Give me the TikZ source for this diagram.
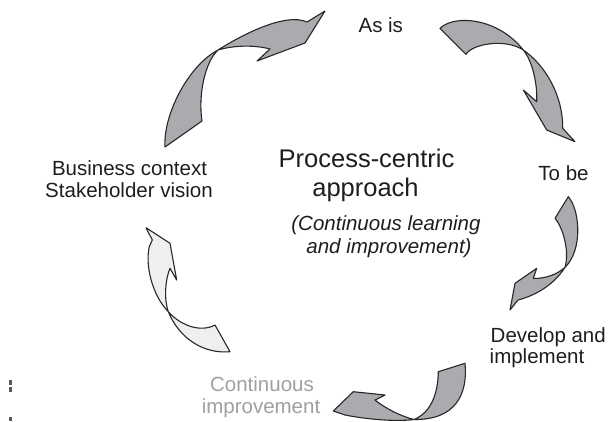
\documentclass[tikz,border=0pt]{standalone}
\usepackage{fontspec}
\setmainfont{Liberation Sans}
\definecolor{arrowgray}{RGB}{170,171,174}
\definecolor{paleshape}{RGB}{238,239,239}
\definecolor{outlinec}{RGB}{40,40,40}
\definecolor{txt}{RGB}{30,30,30}
\definecolor{softtxt}{RGB}{160,160,160}
\definecolor{markc}{RGB}{90,90,90}
\begin{document}
\begin{tikzpicture}[x=1pt,y=-1pt,
  arrowshape/.style={fill=arrowgray, draw=outlinec, line width=1.1pt, line join=round},
  lightshape/.style={arrowshape, fill=paleshape},
  lbl/.style={font=\fontsize{20.5}{23}\selectfont, text=txt, inner sep=0pt, anchor=base},
  biglbl/.style={font=\fontsize{25.5}{28}\selectfont, text=txt, inner sep=0pt, anchor=base},
  itlbl/.style={font=\fontsize{20.5}{23}\selectfont\itshape, text=txt, inner sep=0pt, anchor=base},
  softlbl/.style={lbl, text=softtxt}]
\fill[white] (0,0) rectangle (609,421);
\useasboundingbox (0,0) rectangle (609,421);

% arrow 1 (top left)
\draw[arrowshape] (165,147) .. controls (163,115) and (188,66) .. (218,50)
  .. controls (240,36) and (285,12) .. (307,22)
  -- (325,11) -- (305,43) -- (257,61) -- (270,49)
  .. controls (255,45) and (235,45) .. (218,50)
  .. controls (205,62) and (198,95) .. (202,121)
  -- cycle;

% arrow 2 (top right)
\draw[arrowshape] (440,28.3) .. controls (455,14) and (498,18) .. (523.3,50)
  .. controls (545,65) and (563,95) .. (562.7,128.3)
  -- (575,141.7) -- (546.7,130) -- (523.3,90) -- (536.7,101.7)
  .. controls (537.5,85) and (533,62) .. (523.3,50)
  .. controls (505,38) and (472,44) .. (466,54.3)
  -- cycle;

% arrow 3 (right)
\draw[arrowshape] (568.3,196.7) .. controls (580,210) and (583,250) .. (565,267.3)
  .. controls (558,274) and (545,279) .. (533.3,278.3)
  -- (536.7,268.3) -- (515,283.3) -- (510,310) -- (518,300)
  .. controls (530,297) and (552,288) .. (565,267.3)
  .. controls (570,250) and (562,226) .. (555,218.3)
  -- cycle;

% arrow 4 (bottom)
\draw[arrowshape] (465,363.3) .. controls (468,395) and (455,420) .. (414,419.5)
  .. controls (395,422) and (365,419) .. (345,415)
  -- (333.3,411) -- (353.3,391.7) -- (385,395) -- (375,400)
  .. controls (385,408) and (400,416) .. (414,419.5)
  .. controls (432,412) and (438,392) .. (438.3,371.7)
  -- cycle;

% arrow 5 (left, pale)
\draw[lightshape] (215,325) -- (230,351.7)
  .. controls (205,354) and (180,340) .. (168.3,311.7)
  .. controls (152,295) and (145,265) .. (149.3,246.7)
  -- (152.3,240) -- (146,227.7) -- (170,243.3) -- (176.7,280) -- (170,268.3)
  .. controls (165,280) and (164,300) .. (168.3,311.7)
  .. controls (180,325) and (200,333) .. (215,325)
  -- cycle;

% labels
\node[lbl] (asis) at (380.8,32.3) {As is};
\node[lbl] (tobe) at (563.5,180.7) {To be};
\node[lbl] (bc1) at (129.5,175) {Business context};
\node[lbl] (bc2) at (129,197.5) {Stakeholder vision};
\node[biglbl] (pc1) at (366.5,167.7) {Process-centric};
\node[biglbl] (pc2) at (365.5,196.5) {approach};
\node[itlbl] (cl1) at (386,230.5) {(Continuous learning};
\node[itlbl] (cl2) at (389,253.5) {and improvement)};
\node[lbl, anchor=base west] (dv1) at (490.5,342) {Develop and};
\node[lbl, anchor=base west] (dv2) at (489.5,363.5) {implement};
\node[softlbl] (ci1) at (262,391) {Continuous};
\node[softlbl] (ci2) at (261,413) {improvement};

% cropped fragments at the left edge
\fill[markc] (8.5,380) rectangle (12,385);
\fill[markc] (8.5,387) rectangle (12,392);
\fill[markc] (8.5,417) rectangle (12,421);
\end{tikzpicture}
\end{document}
